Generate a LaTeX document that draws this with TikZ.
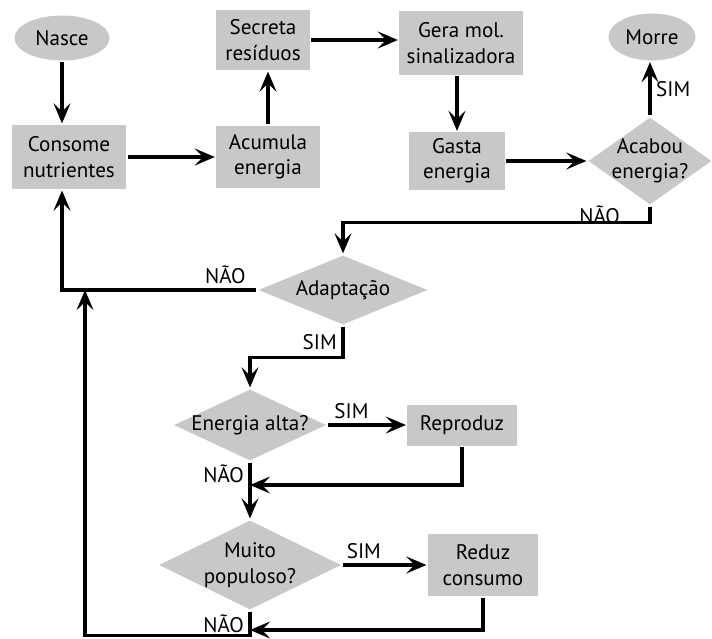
\documentclass[tikz,border=0pt]{standalone}
\usepackage{fontspec}
\setmainfont{PT Sans}
\usepackage{tikz}
\usetikzlibrary{arrows.meta,positioning,shapes.geometric}
\definecolor{flowgray}{HTML}{C8C8C8}

\begin{document}
\begin{tikzpicture}[
  x=0.025cm, y=-0.025cm,
  font=\fontsize{15}{18}\selectfont,
  line width=2.2pt,
  proc/.style={fill=flowgray, align=center, inner sep=2pt},
  terminal/.style={ellipse, fill=flowgray, inner sep=0pt},
  decision/.style={diamond, fill=flowgray, inner sep=0pt},
  arrow/.style={-{Stealth[length=5mm, width=4.2mm, inset=2mm]}, draw=black}
]
  \useasboundingbox (0,0) rectangle (712,639);
  \node[terminal, minimum width=2.375cm, minimum height=1.125cm] (nasce) at (62,38) {Nasce};
  \node[proc, minimum width=2.85cm, minimum height=1.6cm] (consome) at (69,157) {Consome\\nutrientes};
  \node[proc, minimum width=2.575cm, minimum height=1.55cm] (acumula) at (268,157) {Acumula\\energia};
  \node[proc, minimum width=2.325cm, minimum height=1.5cm] (secreta) at (263,40) {Secreta\\resíduos};
  \node[proc, minimum width=3.075cm, minimum height=1.575cm] (gera) at (461,43) {Gera mol.\\sinalizadora};
  \node[proc, minimum width=2.375cm, minimum height=1.425cm] (gasta) at (457,161) {Gasta\\energia};
  \node[decision, minimum width=3.1cm, minimum height=2.2cm,
        label={[align=center]center:Acabou\\energia?}] (acabou) at (650,161) {};
  \node[terminal, minimum width=2.175cm, minimum height=1.175cm] (morre) at (652,37) {Morre};
  \node[decision, minimum width=4.25cm, minimum height=1.75cm, label=center:Adaptação] (adapt) at (343,290) {};
  \node[decision, minimum width=3.825cm, minimum height=1.8cm, label=center:Energia alta?] (ealta) at (250,425) {};
  \node[proc, minimum width=2.725cm, minimum height=1.025cm] (reproduz) at (462,425) {Reproduz};
  \node[decision, minimum width=4.575cm, minimum height=2.25cm,
        label={[align=center]center:Muito\\populoso?}] (muito) at (250,565) {};
  \node[proc, minimum width=2.75cm, minimum height=1.55cm] (reduz) at (483,565) {Reduz\\consumo};
  % junctions on the return lines
  \coordinate (j1) at (250,485);
  \coordinate (j2) at (250,630);
  \coordinate (j3) at (85,290);
  \draw[arrow] (nasce) -- (nasce |- consome.north);
  \draw[arrow] (consome) -- (acumula);
  \draw[arrow] (acumula.north) -- (acumula.north |- secreta.south);
  \draw[arrow] (secreta) -- (secreta -| gera.west);
  \draw[arrow] (gasta |- gera.south) -- (gasta.north);
  \draw[arrow] (gasta) -- (acabou);
  \draw[arrow] (acabou.north) -- node[right]{SIM} (acabou.north |- morre.south);
  \draw[arrow] (acabou.south) -- node[left=0.6cm]{NÃO} ++(0,16) -| (adapt.north);
  \draw[arrow] (adapt.west) -| node[pos=0.08, above]{NÃO} (nasce |- consome.south);
  \draw[arrow] (adapt.south) -- node[left]{SIM} ++(0,31) -| (ealta.north);
  \draw[arrow] (ealta) -- node[pos=0.3, above]{SIM} (reproduz);
  \draw[arrow] (ealta) -- node[pos=0.2, left]{NÃO} (muito);
  \draw[arrow] (reproduz.south) |- (j1);
  \draw[arrow] (muito) -- node[pos=0.25, above]{SIM} (reduz);
  \draw[arrow] (reduz.south) |- (j2);
  \draw[arrow] (muito.south) -- node[left]{NÃO} ++(0,24) -| (j3);
\end{tikzpicture}
\end{document}
